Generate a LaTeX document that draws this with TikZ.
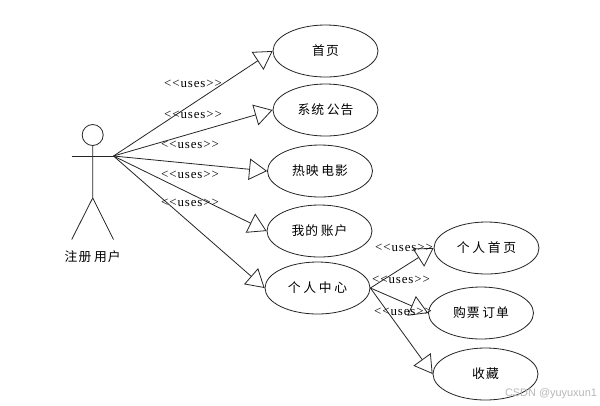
\documentclass[tikz,border=0pt]{standalone}
\usepackage{fontspec}
\usetikzlibrary{arrows.meta,shapes.geometric}
\newfontfamily\cjkf[LetterSpace=8]{Noto Sans CJK SC}
\newfontfamily\usesf[LetterSpace=7]{Liberation Serif}
\newfontfamily\wmf{Liberation Sans}
\newcommand{\cg}{\hspace{2pt}}
\tikzset{
  x=0.75pt,y=-0.75pt,
  usecase/.style={draw=black!85,line width=0.6pt,ellipse,minimum width=78.75pt,minimum height=39pt,inner sep=0pt,font=\cjkf\fontsize{9.6}{11}\selectfont},
  usesarrow/.style={draw=black!85,line width=0.6pt,-{Triangle[open,length=13.5pt,width=16pt,line width=0.6pt]}},
  useslabel/.style={inner sep=0pt,font=\usesf\fontsize{9.7}{11}\selectfont},
  actorline/.style={draw=black!85,line width=0.6pt}
}
\begin{document}
\begin{tikzpicture}
\useasboundingbox (0,0) rectangle (600,405);
\fill[white] (0,0) rectangle (600,405);
% actor
\node[circle,draw=black!85,line width=0.6pt,minimum size=15.75pt,inner sep=0pt] (head) at (92.7,135) {};
\coordinate (lhand) at (71.7,156);
\coordinate (hand) at (113.5,156);
\coordinate (hip) at (92.7,198);
\coordinate (lfoot) at (71.7,239.5);
\coordinate (rfoot) at (113.5,239.5);
\draw[actorline] (head.south) -- (hip) -- (lfoot);
\draw[actorline] (hip) -- (rfoot);
\draw[actorline] (lhand) -- (hand);
\node[inner sep=0pt,font=\cjkf\fontsize{9.6}{11}\selectfont] (actor) at (92.7,257) {注册\cg 用户};
% use cases
\node[usecase] (a) at (325.5,51) {首页};
\node[usecase] (b) at (325.5,110) {系统\cg 公告};
\node[usecase] (c) at (320,171) {热映\cg 电影};
\node[usecase] (d) at (319.5,231) {我的\cg 账户};
\node[usecase] (e) at (317.5,288) {个\cg 人\cg 中\cg 心};
\node[usecase] (f) at (486.5,248) {个\cg 人\cg 首\cg 页};
\node[usecase] (g) at (481,313) {购票\cg 订单};
\node[usecase] (h) at (485.5,374) {收藏};
% connectors
\foreach \t in {a,b,c,d,e} \draw[usesarrow] (hand) -- (\t.west);
\foreach \t in {f,g,h} \draw[usesarrow] (e.east) -- (\t.west);
% labels
\node[useslabel] (l1) at (193,84) {<{}<uses>{}>};
\node[useslabel] (l2) at (193,115) {<{}<uses>{}>};
\node[useslabel] (l3) at (190,145) {<{}<uses>{}>};
\node[useslabel] (l4) at (190,175) {<{}<uses>{}>};
\node[useslabel] (l5) at (190,203) {<{}<uses>{}>};
\node[useslabel] (l6) at (404,248) {<{}<uses>{}>};
\node[useslabel] (l7) at (401,280) {<{}<uses>{}>};
\node[useslabel] (l8) at (403,312) {<{}<uses>{}>};
\node[inner sep=0pt,text=black!28,font=\wmf\fontsize{8.2}{10}\selectfont] (wm) at (551,394) {CSDN @yuyuxun1};
\end{tikzpicture}
\end{document}
